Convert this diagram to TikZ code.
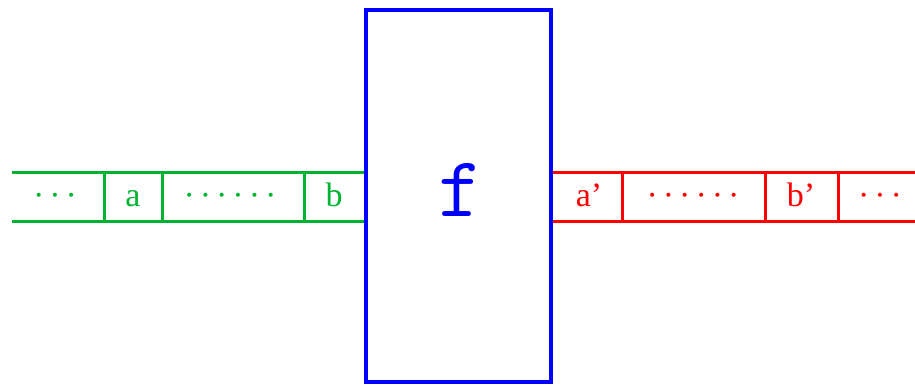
\documentclass[tikz,border=0pt]{standalone}
\usepackage{fontspec}
\setmainfont{Liberation Serif}
\definecolor{tapegreen}{RGB}{0,180,50}
\newcommand{\dsep}{\kern5pt}
\begin{document}
\begin{tikzpicture}[x=1pt,y=-1pt,
  tapeline/.style={line width=3pt},
  celltext/.style={font=\fontsize{34}{40}\selectfont, inner sep=0pt, anchor=base}]
\useasboundingbox (0,0) rectangle (915,385);
% blue box
\node[draw=blue, line width=3.5pt, minimum width=185pt, minimum height=372pt, inner sep=0pt] (fbox) at (458.5,196) {};
\node[text=blue, font=\ttfamily\fontsize{86}{92}\selectfont, inner sep=0pt] (flabel) at (461,190) {f};
% green tape
\coordinate (gL1) at (12,172);
\coordinate (gL2) at (12,221);
\draw[tapegreen, tapeline] (gL1) -- (fbox.west |- gL1);
\draw[tapegreen, tapeline] (gL2) -- (fbox.west |- gL2);
\foreach \x in {104,162,304} \draw[tapegreen, tapeline] (\x,172) -- (\x,221);
\node[celltext, text=tapegreen] (g1) at (55,206) {·\dsep·\dsep·};
\node[celltext, text=tapegreen] (g2) at (133,206) {a};
\node[celltext, text=tapegreen] (g3) at (230,206) {·\dsep·\dsep·\dsep·\dsep·\dsep·};
\node[celltext, text=tapegreen] (g4) at (334,206) {b};
% red tape
\coordinate (rR1) at (915,172);
\coordinate (rR2) at (915,221);
\draw[red, tapeline] (fbox.east |- rR1) -- (rR1);
\draw[red, tapeline] (fbox.east |- rR2) -- (rR2);
\foreach \x in {622,765,838} \draw[red, tapeline] (\x,172) -- (\x,221);
\node[celltext, text=red] (r1) at (589,206) {a’};
\node[celltext, text=red] (r2) at (693,206) {·\dsep·\dsep·\dsep·\dsep·\dsep·};
\node[celltext, text=red] (r3) at (801,206) {b’};
\node[celltext, text=red] (r4) at (880,206) {·\dsep·\dsep·};
\end{tikzpicture}
\end{document}
